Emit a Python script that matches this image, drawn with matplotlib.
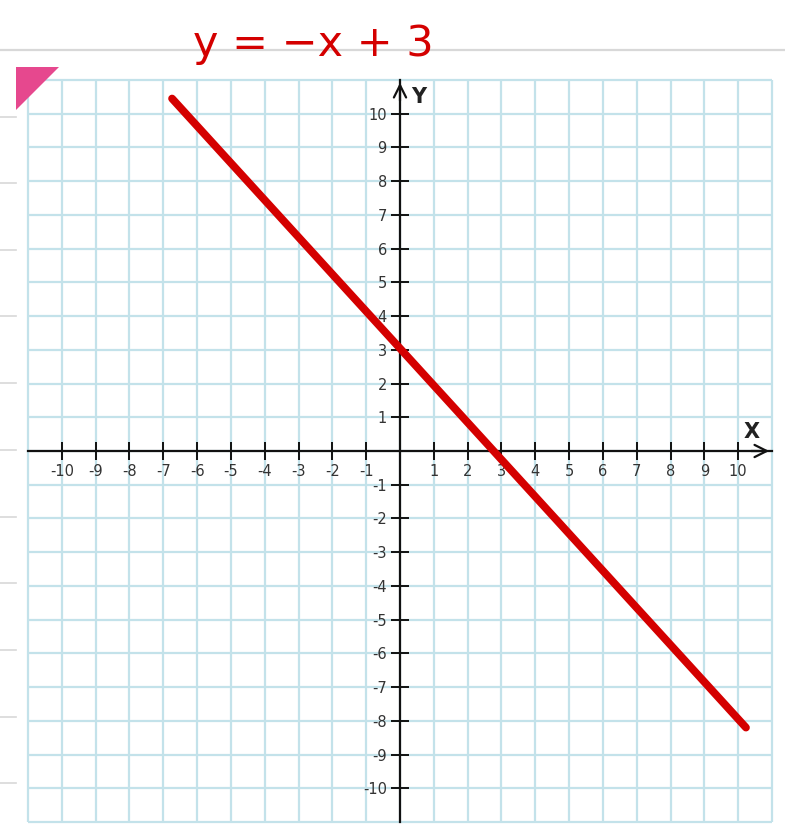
import numpy as np
import matplotlib
matplotlib.use("Agg")
import matplotlib.pyplot as plt
from matplotlib.patches import Polygon
from matplotlib.lines import Line2D

plt.rcParams['axes.unicode_minus'] = False

# ---- data ----
tick_values = list(range(-10, 11))
tick_labels = [str(v) if v != 0 else "" for v in tick_values]
grid_values = list(range(-11, 12))
line_x = [-6.74, 10.23]
line_y = [10.45, -8.2]
equation = "y = −x + 3"

W, H = 785, 824
fig = plt.figure(figsize=(W / 100, H / 100), dpi=100)
fig.patch.set_facecolor("white")

def fx(px):
    return px / W

def fy(py):
    return 1 - py / H

# page decorations
fig.add_artist(Line2D([0, 1], [fy(50), fy(50)], transform=fig.transFigure,
                      color="#d8d8d8", lw=1.6))
for py in [117, 183, 250, 316, 383, 450, 517, 583, 650, 717, 783]:
    fig.add_artist(Line2D([0, fx(16)], [fy(py), fy(py)], transform=fig.transFigure,
                          color="#d8d8d8", lw=1.2))

ax = fig.add_axes([fx(28), fy(822), fx(772) - fx(28), fy(80) - fy(822)])
ax.set_xlim(-11, 11)
ax.set_ylim(-11, 11)
ax.set_facecolor("white")

grid_color = "#c3e2ea"
ax.vlines(grid_values, -11, 11, colors=grid_color, lw=1.6, clip_on=False, zorder=0)
ax.hlines(grid_values, -11, 11, colors=grid_color, lw=1.6, clip_on=False, zorder=0)

for s in ["top", "right"]:
    ax.spines[s].set_visible(False)
ax.spines["left"].set_position(("data", 0))
ax.spines["bottom"].set_position(("data", 0))
for s in ["left", "bottom"]:
    ax.spines[s].set_linewidth(1.6)
    ax.spines[s].set_color("#111111")
    ax.spines[s].set_zorder(3)

ax.set_xticks(tick_values)
ax.set_xticklabels(tick_labels)
ax.set_yticks(tick_values)
ax.set_yticklabels(tick_labels)
ax.tick_params(direction="inout", length=13, width=1.4, color="#111111",
               labelsize=10.5, labelcolor="#333333", pad=3)

# arrows
ax.annotate("", xy=(11, 0), xytext=(10.3, 0),
            arrowprops=dict(arrowstyle="->", lw=1.6, color="#111111", mutation_scale=22),
            annotation_clip=False, zorder=4)
ax.annotate("", xy=(0, 11), xytext=(0, 10.3),
            arrowprops=dict(arrowstyle="->", lw=1.6, color="#111111", mutation_scale=22),
            annotation_clip=False, zorder=4)
ax.text(10.41, 0.55, "X", fontsize=15, fontweight="bold", color="#222222",
        ha="center", va="center")
ax.text(0.55, 10.5, "Y", fontsize=15, fontweight="bold", color="#222222",
        ha="center", va="center")

# the red line
ax.plot(line_x, line_y, color="#d40000", lw=5.6, solid_capstyle="round",
        clip_on=False, zorder=5)

# pink corner triangle
fig.add_artist(Polygon([[fx(16), fy(67)], [fx(59), fy(67)], [fx(16), fy(110)]],
                       closed=True, transform=fig.transFigure,
                       facecolor="#e6488e", edgecolor="none"))

# handwritten equation
fig.text(fx(313), fy(44), equation, color="#d40000", fontsize=31,
         ha="center", va="center", family="DejaVu Sans")

fig.savefig("out.png", dpi=100)
